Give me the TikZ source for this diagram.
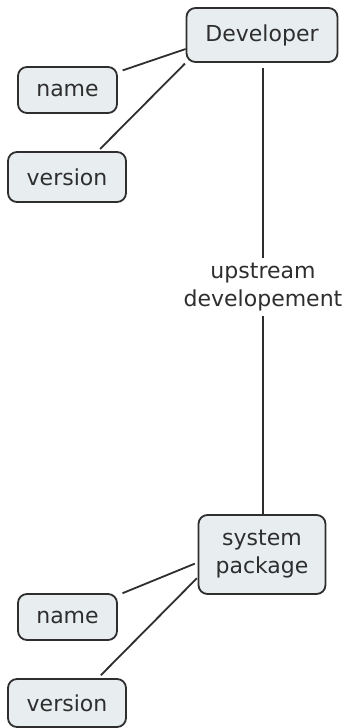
\documentclass[tikz,border=0pt]{standalone}
\usepackage{fontspec}
\setmainfont{DejaVu Sans}
\usetikzlibrary{calc}
\definecolor{boxfill}{HTML}{E8EEF0}
\definecolor{ink}{HTML}{2E2E2E}
\tikzset{
  concept/.style={draw=ink, line width=1.8pt, fill=boxfill, rounded corners=9pt,
    font=\fontsize{22}{28}\selectfont, text=ink, align=center, inner sep=0pt},
  link/.style={draw=ink, line width=1.8pt},
  linklabel/.style={font=\fontsize{22}{28}\selectfont, text=ink, align=center, inner sep=5pt}
}
\begin{document}
\begin{tikzpicture}[x=1pt, y=-1pt]
  \useasboundingbox[fill=white] (0,0) rectangle (348,728);

  % concepts
  \node[concept, minimum width=151pt, minimum height=54pt] (dev) at (262,35) {Developer};
  \node[concept, minimum width=99pt, minimum height=46pt] (n1) at (67.5,90) {name};
  \node[concept, minimum width=118pt, minimum height=50pt] (v1) at (67,177) {version};

  \node[concept, minimum width=127pt, minimum height=79pt] (sp) at (262,554.5) {system\\package};
  \node[concept, minimum width=99pt, minimum height=46pt] (n2) at (67.5,617) {name};
  \node[concept, minimum width=118pt, minimum height=48pt] (v2) at (67,703) {version};

  % relation label
  \node[linklabel] (up) at (263,287) {upstream\\developement};

  % connectors
  \draw[link, shorten <=5pt] ($(n1.east)+(0,-18)$) -- ($(dev.west)+(0,14)$);
  \draw[link, shorten <=3pt, shorten >=1pt] ($(v1.north)+(31,0)$) -- (dev.south west);
  \draw[link] ($(dev.south)+(1,5)$) -- (up.north -| 263,0);
  \draw[link] (up.south -| 263,0) -- (sp.north -| 263,0);
  \draw[link, shorten <=5pt, shorten >=3pt] ($(n2.north east)+(0,2)$) -- ($(sp.west)+(0,8)$);
  \draw[link, shorten <=4pt, shorten >=1pt] ($(v2.north)+(31,0)$) -- ($(sp.west)+(0,23)$);
\end{tikzpicture}
\end{document}
